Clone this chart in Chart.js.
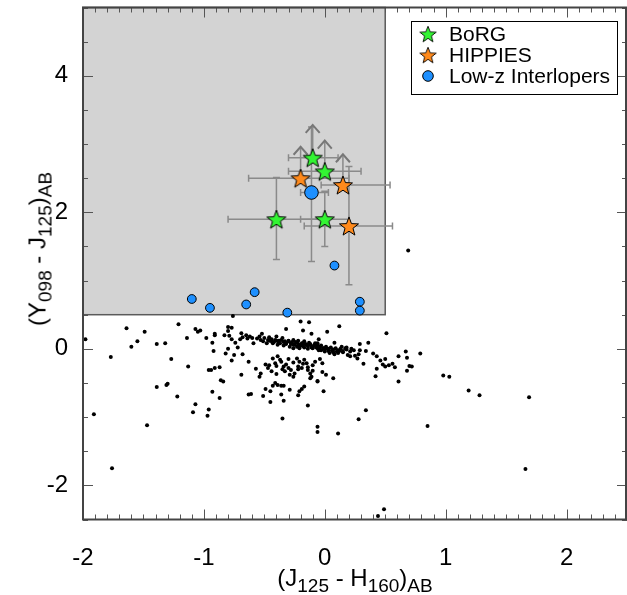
<!DOCTYPE html>
<html>
<head>
<meta charset="utf-8">
<script src="https://cdn.jsdelivr.net/npm/chart.js@4.4.0/dist/chart.umd.min.js"></script>
<style>
  html, body { margin: 0; padding: 0; background: #fff; }
  #wrap { position: relative; width: 627px; height: 595px; font-family: "Liberation Sans", Arial, sans-serif; }
  #chart { position: absolute; left: 0; top: 0; }
  .axis-title { position: absolute; font-size: 24px; line-height: 1; color: #000; white-space: nowrap; }
  .axis-title sub { font-size: 19px; vertical-align: -6px; line-height: 1; }
  #xTitle { left: 355px; top: 566px; transform: translateX(-50%); }
  #yTitle { left: 40px; top: 249px; transform: translate(-50%, -50%) rotate(-90deg); }
</style>
</head>
<body>
<div id="wrap">
  <canvas id="chart" width="627" height="595"></canvas>
  <div class="axis-title" id="xTitle">(J<sub>125</sub> - H<sub>160</sub>)<sub>AB</sub></div>
  <div class="axis-title" id="yTitle">(Y<sub>098</sub> - J<sub>125</sub>)<sub>AB</sub></div>
</div>
<script>
const xTicks = [-2, -1, 0, 1, 2];
const yTicks = [-2, 0, 2, 4];
const xRange = [-2, 2.5];
const yRange = [-2.5, 5];

// selection region (x from, x to, y from, y to)
const selectBox = [-2, 0.5, 0.5, 5];

const legendNames = ["BoRG", "HIPPIES", "Low-z Interlopers"];

const borgX = [-0.1, 0.0, -0.4, 0.0];
const borgY = [2.8, 2.6, 1.9, 1.9];
const borgXLo = [-0.30, -0.30, -0.80, -0.20];
const borgXHi = [0.11, 0.30, 0.00, 0.20];
const borgYLo = [2.8, 2.6, 1.31, 1.50];
const borgYHi = [3.28, 3.05, 2.51, 2.31];
const borgLimit = [true, true, false, false];

const hippiesX = [-0.2, 0.15, 0.2];
const hippiesY = [2.5, 2.4, 1.8];
const hippiesXLo = [-0.63, -0.03, -0.17];
const hippiesXHi = [0.20, 0.54, 0.56];
const hippiesYLo = [2.5, 2.4, 0.94];
const hippiesYHi = [2.96, 2.85, 2.67];
const hippiesLimit = [true, true, false];

// first one is the large point with error bars
const lowzX = [-0.11, -1.10, -0.95, -0.65, -0.58, -0.31, 0.08, 0.29, 0.29];
const lowzY = [2.29, 0.73, 0.60, 0.65, 0.83, 0.53, 1.22, 0.69, 0.56];
const lowzErrX = [-0.20, 0.03];
const lowzErrY = [1.28, 3.25];

const fieldXY = [
  [-1.98,0.14],[-1.64,0.30],[-1.77,-0.12],[-1.60,0.03],[-1.55,0.11],[-1.49,0.25],[-1.39,0.07],[-1.32,0.08],
  [-1.21,0.36],[-1.14,0.16],[-1.07,0.29],[-1.05,0.25],[-1.03,0.27],[-0.98,0.16],[-0.93,0.09],[-0.91,0.20],
  [-0.91,0.22],[-0.92,-0.03],[-1.27,-0.15],[-1.13,-0.26],[-0.96,-0.31],[-0.94,-0.31],[-0.91,-0.28],[-0.87,-0.27],
  [-1.39,-0.56],[-1.31,-0.53],[-1.30,-0.51],[-1.22,-0.70],[-1.07,-0.81],[-1.09,-0.93],[-0.96,-0.89],[-0.97,-0.98],
  [-0.93,-0.63],[-0.86,-0.46],[-0.84,-0.48],[-0.87,-0.72],[-1.91,-0.96],[-1.47,-1.12],[-1.76,-1.75],[-0.82,-0.07],
  [-0.80,0.00],[-0.75,-0.09],[-0.77,-0.17],[-0.72,0.02],[-0.83,0.20],[-0.80,0.26],[-0.80,0.32],[-0.77,0.31],
  [-0.79,0.19],[-0.77,0.14],[-0.74,0.09],[-0.76,0.48],[-0.70,0.14],
  [-0.20,0.40],[-0.13,0.39],[-0.32,0.29],[-0.18,0.27],[-0.11,0.22],
  [-0.69,0.23],[-0.68,0.17],[-0.65,0.20],[-0.64,0.15],[-0.62,0.18],[-0.60,0.16],[-0.59,0.08],[-0.56,0.15],
  [-0.54,0.18],[-0.53,0.13],[-0.52,0.22],[-0.51,0.11],[-0.50,0.16],[-0.48,0.08],[-0.47,0.13],[-0.46,0.17],
  [-0.44,0.11],[-0.43,0.08],[-0.41,0.13],[-0.40,0.18],[-0.39,0.06],[-0.38,0.12],[-0.37,0.08],[-0.35,0.16],
  [-0.34,0.05],[-0.33,0.11],[-0.32,0.07],[-0.30,0.12],[-0.29,0.03],[-0.28,0.08],[-0.26,0.06],[-0.26,0.01],
  [-0.24,0.10],[-0.23,0.03],[-0.22,0.07],[-0.21,0.01],[-0.19,0.05],[-0.18,0.08],[-0.17,0.02],[-0.15,0.06],
  [-0.14,0.00],[-0.12,0.07],[-0.11,0.03],[-0.10,0.01],[-0.08,0.05],[-0.07,0.02],[-0.06,0.08],[-0.05,-0.02],
  [-0.46,0.12],[-0.44,0.14],[-0.42,0.10],[-0.40,0.12],[-0.38,0.09],[-0.36,0.13],[-0.34,0.10],[-0.32,0.08],
  [-0.30,0.11],[-0.28,0.07],[-0.27,0.10],[-0.25,0.06],[-0.23,0.09],[-0.21,0.05],[-0.19,0.08],[-0.18,0.04],
  [-0.16,0.07],[-0.14,0.04],[-0.12,0.06],[-0.11,0.02],[-0.09,0.05],[-0.07,0.03],[-0.06,0.06],[-0.04,0.02],
  [-0.03,0.05],[-0.01,0.01],[0.01,0.03],[0.03,0.00],[0.05,0.02],[0.07,-0.01],[0.09,0.01],[0.11,-0.02],
  [0.13,0.00],[0.15,-0.03],[0.18,-0.01],[0.21,-0.04],[0.24,-0.02],[-0.26,0.13],[-0.22,0.12],[-0.17,0.11],
  [-0.13,0.09],[-0.08,0.08],
  [-0.68,-0.08],[-0.63,-0.19],[-0.57,-0.29],[-0.54,-0.41],[-0.53,-0.36],[-0.49,-0.23],[-0.47,-0.28],[-0.46,-0.24],
  [-0.44,-0.33],[-0.43,-0.14],[-0.41,-0.21],[-0.40,-0.37],[-0.39,-0.11],[-0.37,-0.16],[-0.36,-0.19],[-0.34,-0.26],
  [-0.33,-0.33],[-0.32,-0.23],[-0.30,-0.28],[-0.29,-0.38],[-0.28,-0.31],[-0.26,-0.41],[-0.25,-0.36],[-0.23,-0.14],
  [-0.22,-0.26],[-0.21,-0.19],[-0.19,-0.28],[-0.17,-0.16],[-0.15,-0.21],[-0.14,-0.31],[-0.12,-0.36],[-0.11,-0.41],
  [-0.10,-0.24],[-0.08,-0.19],[-0.69,-0.38],[-0.06,-0.48],[-0.12,-0.43],
  [-0.30,-0.15],[-0.26,-0.20],[-0.22,-0.30],[-0.18,-0.22],[-0.14,-0.27],[-0.10,-0.32],[-0.35,-0.30],[-0.40,-0.25],
  [-0.63,-0.67],[-0.61,-0.66],[-0.51,-0.69],[-0.49,-0.59],[-0.45,-0.62],[-0.43,-0.54],[-0.41,-0.50],[-0.39,-0.53],
  [-0.36,-0.54],[-0.34,-0.54],[-0.36,-0.67],[-0.29,-0.60],[-0.22,-0.68],[-0.21,-0.62],[-0.19,-0.59],[-0.17,-0.55],
  [-0.45,-0.78],[-0.34,-0.76],[-0.14,-0.83],[-0.35,-1.02],
  [0.02,0.25],[0.12,0.33],[-0.05,0.14],[0.08,0.09],
  [-0.07,0.06],[-0.06,0.01],[-0.04,0.03],[-0.03,-0.02],[-0.01,0.01],[0.00,-0.04],[0.01,0.00],[0.03,-0.03],
  [0.04,-0.06],[0.06,-0.02],[0.07,-0.05],[0.08,-0.08],[0.10,-0.04],[0.11,-0.06],[0.12,-0.03],[0.14,0.03],
  [0.15,-0.05],[0.17,0.01],[0.18,0.02],[0.19,-0.09],[0.21,-0.11],[0.22,0.00],[0.25,-0.10],[0.27,-0.14],
  [0.28,-0.08],[0.29,0.07],[0.29,-0.02],[0.32,-0.22],[0.34,-0.03],[0.36,0.09],[0.40,-0.07],[0.43,-0.11],
  [0.46,-0.17],[0.48,-0.23],[0.50,-0.15],[0.50,-0.26],[0.53,-0.24],[0.56,-0.22],[0.58,-0.27],[0.51,0.23],
  [0.61,-0.11],[0.61,-0.48],[-0.04,-0.15],[-0.02,-0.21],[-0.02,-0.34],[0.01,-0.38],[0.07,-0.43],[-0.06,-0.47],
  [-0.01,-0.62],[0.43,-0.29],[0.42,-0.40],[0.34,-0.90],[0.28,-1.03],
  [0.67,-0.04],[0.68,-0.13],[0.68,-0.32],[0.70,-0.25],[0.72,-0.26],[0.79,-0.07],[0.85,-1.13],[0.98,-0.39],
  [1.03,-0.41],[1.19,-0.61],[1.28,-0.68],[1.69,-0.71],[1.66,-1.76],
  [-0.06,-1.14],[-0.06,-1.22],[0.11,-1.24],[0.49,-2.35],[0.44,-2.45],[0.69,1.44]
];

const fontFamily = '"Liberation Sans", Arial, Helvetica, sans-serif';

function makeStar(fill, R) {
  const c = document.createElement("canvas");
  const s = Math.ceil(R * 2 + 4);
  c.width = s; c.height = s;
  const g = c.getContext("2d");
  g.beginPath();
  for (let i = 0; i < 10; i++) {
    const r = i % 2 ? R * 0.42 : R;
    const a = -Math.PI / 2 + i * Math.PI / 5;
    g.lineTo(s / 2 + r * Math.cos(a), s / 2 + 1 + r * Math.sin(a));
  }
  g.closePath();
  g.fillStyle = fill;
  g.fill();
  g.lineWidth = 1;
  g.strokeStyle = "#000";
  g.stroke();
  return c;
}

const greenStar = makeStar("#33f533", 10);
const orangeStar = makeStar("#ff8a1c", 10);
const blue = "#1e90ff";

function toPoints(xs, ys) {
  return xs.map((x, i) => ({ x: x, y: ys[i] }));
}

function drawErrors(ctx, xs, ys, xlo, xhi, ylo, yhi, lim, sx, sy) {
  xs.forEach((x, i) => {
    const px = sx.getPixelForValue(x), py = sy.getPixelForValue(ys[i]);
    const x0 = sx.getPixelForValue(xlo[i]), x1 = sx.getPixelForValue(xhi[i]);
    const y0 = sy.getPixelForValue(ylo[i]), y1 = sy.getPixelForValue(yhi[i]);
    ctx.strokeStyle = "#8a8a8a";
    ctx.lineWidth = 1.5;
    ctx.beginPath();
    ctx.moveTo(x0, py); ctx.lineTo(x1, py);
    ctx.moveTo(x0, py - 3.5); ctx.lineTo(x0, py + 3.5);
    ctx.moveTo(x1, py - 3.5); ctx.lineTo(x1, py + 3.5);
    ctx.moveTo(px, y0); ctx.lineTo(px, y1);
    if (!lim[i]) {
      ctx.moveTo(px - 3.5, y0); ctx.lineTo(px + 3.5, y0);
      ctx.moveTo(px - 3.5, y1); ctx.lineTo(px + 3.5, y1);
    }
    ctx.stroke();
    if (lim[i]) {
      ctx.strokeStyle = "#777";
      ctx.lineWidth = 2;
      ctx.beginPath();
      ctx.moveTo(px - 7, y1 + 8); ctx.lineTo(px, y1); ctx.lineTo(px + 7, y1 + 8);
      ctx.stroke();
    }
  });
}

const framePlugin = {
  id: "frame",
  beforeDatasetsDraw(chart) {
    const ctx = chart.ctx, sx = chart.scales.x, sy = chart.scales.y;
    ctx.save();
    const bx0 = sx.getPixelForValue(selectBox[0]), bx1 = sx.getPixelForValue(selectBox[1]);
    const by0 = sy.getPixelForValue(selectBox[2]), by1 = sy.getPixelForValue(selectBox[3]);
    ctx.fillStyle = "#d3d3d3";
    ctx.fillRect(bx0, by1, bx1 - bx0, by0 - by1);
    ctx.strokeStyle = "#5a5a5a";
    ctx.lineWidth = 1.5;
    ctx.strokeRect(bx0, by1, bx1 - bx0, by0 - by1);

    drawErrors(ctx, [lowzX[0]], [lowzY[0]], [lowzErrX[0]], [lowzErrX[1]], [lowzErrY[0]], [lowzErrY[1]], [false], sx, sy);
    drawErrors(ctx, borgX, borgY, borgXLo, borgXHi, borgYLo, borgYHi, borgLimit, sx, sy);
    drawErrors(ctx, hippiesX, hippiesY, hippiesXLo, hippiesXHi, hippiesYLo, hippiesYHi, hippiesLimit, sx, sy);
    ctx.restore();
  },
  afterDatasetsDraw(chart) {
    const ctx = chart.ctx, sx = chart.scales.x, sy = chart.scales.y;
    const a = chart.chartArea;
    ctx.save();
    // inward ticks
    ctx.strokeStyle = "#555";
    ctx.lineWidth = 1;
    ctx.beginPath();
    for (let k = 0; k <= 45; k++) {
      const v = xRange[0] + k / 10;
      const px = Math.round(sx.getPixelForValue(v)) + 0.5;
      const len = k % 10 === 0 ? 10 : 5;
      ctx.moveTo(px, a.bottom); ctx.lineTo(px, a.bottom - len);
      ctx.moveTo(px, a.top); ctx.lineTo(px, a.top + len);
    }
    for (let k = 0; k <= 15; k++) {
      const v = yRange[0] + k / 2;
      const py = Math.round(sy.getPixelForValue(v)) + 0.5;
      const len = yTicks.includes(v) ? 10 : 5;
      ctx.moveTo(a.left, py); ctx.lineTo(a.left + len, py);
      ctx.moveTo(a.right, py); ctx.lineTo(a.right - len, py);
    }
    ctx.stroke();
    // frame
    ctx.strokeStyle = "#444";
    ctx.lineWidth = 2;
    ctx.strokeRect(a.left, a.top, a.right - a.left - 1, a.bottom - a.top);

    // legend
    const L = a.right - 216, T = a.top + 13.5, W = 206, H = 73;
    ctx.fillStyle = "#fff";
    ctx.fillRect(L, T, W, H);
    ctx.strokeStyle = "#000";
    ctx.lineWidth = 1;
    ctx.strokeRect(L + 0.5, T + 0.5, W, H);
    ctx.font = "21px " + fontFamily;
    ctx.textBaseline = "middle";
    ctx.fillStyle = "#000";
    legendNames.forEach((name, i) => {
      const cy = T + 13 + i * 21;
      const cx = L + 17;
      if (i === 0) ctx.drawImage(greenStar, cx - greenStar.width * 0.43, cy - greenStar.height * 0.43, greenStar.width * 0.86, greenStar.height * 0.86);
      else if (i === 1) ctx.drawImage(orangeStar, cx - orangeStar.width * 0.43, cy - orangeStar.height * 0.43, orangeStar.width * 0.86, orangeStar.height * 0.86);
      else {
        ctx.beginPath();
        ctx.arc(cx, cy, 5.3, 0, Math.PI * 2);
        ctx.fillStyle = blue; ctx.fill();
        ctx.strokeStyle = "#000"; ctx.stroke();
      }
      ctx.fillStyle = "#000";
      ctx.fillText(name, L + 38, cy + 1);
    });
    ctx.restore();
  }
};

function noPad(s) {
  s.paddingTop = 0; s.paddingBottom = 0; s.paddingLeft = 0; s.paddingRight = 0;
}

new Chart(document.getElementById("chart"), {
  type: "scatter",
  data: {
    datasets: [
      {
        label: legendNames[0],
        data: toPoints(borgX, borgY),
        pointStyle: greenStar,
        pointRadius: 10
      },
      {
        label: legendNames[1],
        data: toPoints(hippiesX, hippiesY),
        pointStyle: orangeStar,
        pointRadius: 10
      },
      {
        label: legendNames[2],
        data: toPoints(lowzX, lowzY),
        backgroundColor: blue,
        borderColor: "#000",
        borderWidth: 1,
        pointRadius: c => c.dataIndex === 0 ? 6.8 : 4.4
      },
      {
        label: "field",
        data: fieldXY.map(p => ({ x: p[0], y: p[1] })),
        backgroundColor: "#000",
        borderWidth: 0,
        pointRadius: 2
      }
    ]
  },
  options: {
    responsive: false,
    animation: false,
    events: [],
    layout: { autoPadding: false, padding: { top: 7.5, right: 0, left: 0, bottom: 0 } },
    plugins: { legend: { display: false }, tooltip: { enabled: false } },
    scales: {
      x: {
        type: "linear",
        min: xRange[0],
        max: xRange[1],
        afterBuildTicks: s => { s.ticks = xTicks.map(v => ({ value: v })); },
        afterFit: s => { s.height = 75.5; noPad(s); },
        grid: { display: false },
        border: { display: false },
        ticks: {
          color: "#000",
          font: { size: 24, family: fontFamily },
          padding: 16,
          maxRotation: 0,
          autoSkip: false,
          callback: v => String(v)
        }
      },
      y: {
        type: "linear",
        min: yRange[0],
        max: yRange[1],
        afterBuildTicks: s => { s.ticks = yTicks.map(v => ({ value: v })); },
        afterFit: s => { s.width = 83; noPad(s); },
        grid: { display: false },
        border: { display: false },
        ticks: {
          color: "#000",
          font: { size: 24, family: fontFamily },
          padding: 7,
          autoSkip: false,
          callback: v => String(v)
        }
      }
    }
  },
  plugins: [framePlugin]
});
</script>
</body>
</html>
